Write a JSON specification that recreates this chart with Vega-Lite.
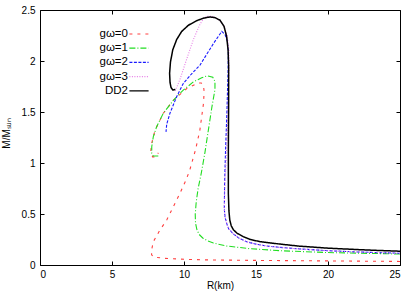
{
  "$schema": "https://vega.github.io/schema/vega-lite/v6.json",
  "width": 360,
  "height": 255,
  "autosize": "none",
  "padding": {"left": 40, "top": 10, "right": 15, "bottom": 26},
  "background": "white",
  "config": {
    "view": {"stroke": "black", "strokeWidth": 1},
    "font": "Liberation Sans",
    "axis": {"grid": false, "domain": false, "tickColor": "black", "tickWidth": 1, "labelColor": "black", "titleColor": "black", "labelFont": "Liberation Sans", "titleFont": "Liberation Sans", "labelFontSize": 10, "titleFontSize": 10, "titleFontWeight": "normal"},
    "legend": {"title": null, "orient": "none", "legendX": 92, "legendY": 17, "padding": 0, "symbolType": "M-1.6,0H1.6", "symbolSize": 144, "symbolStrokeWidth": 1.2, "labelFont": "Liberation Sans", "labelFontSize": 11.5, "labelColor": "black", "labelAlign": "right", "labelOffset": -18, "rowPadding": 1.2}
  },
  "data": {"values": [
    {"s": "gω=0", "k": 1, "R": 25, "M": 0.035},
    {"s": "gω=0", "k": 2, "R": 20, "M": 0.04},
    {"s": "gω=0", "k": 3, "R": 15, "M": 0.045},
    {"s": "gω=0", "k": 4, "R": 11.5, "M": 0.05},
    {"s": "gω=0", "k": 5, "R": 10, "M": 0.056},
    {"s": "gω=0", "k": 6, "R": 8.6, "M": 0.066},
    {"s": "gω=0", "k": 7, "R": 7.9, "M": 0.078},
    {"s": "gω=0", "k": 8, "R": 7.75, "M": 0.1},
    {"s": "gω=0", "k": 9, "R": 7.75, "M": 0.147},
    {"s": "gω=0", "k": 10, "R": 7.87, "M": 0.229},
    {"s": "gω=0", "k": 11, "R": 8.33, "M": 0.343},
    {"s": "gω=0", "k": 12, "R": 8.8, "M": 0.441},
    {"s": "gω=0", "k": 13, "R": 9.26, "M": 0.572},
    {"s": "gω=0", "k": 14, "R": 9.72, "M": 0.703},
    {"s": "gω=0", "k": 15, "R": 10.14, "M": 0.833},
    {"s": "gω=0", "k": 16, "R": 10.4, "M": 0.93},
    {"s": "gω=0", "k": 17, "R": 10.6, "M": 1.03},
    {"s": "gω=0", "k": 18, "R": 10.8, "M": 1.13},
    {"s": "gω=0", "k": 19, "R": 11.1, "M": 1.32},
    {"s": "gω=0", "k": 20, "R": 11.35, "M": 1.58},
    {"s": "gω=0", "k": 21, "R": 11.4, "M": 1.7},
    {"s": "gω=0", "k": 22, "R": 11.35, "M": 1.76},
    {"s": "gω=0", "k": 23, "R": 11.2, "M": 1.785},
    {"s": "gω=0", "k": 24, "R": 11.0, "M": 1.785},
    {"s": "gω=0", "k": 25, "R": 10.19, "M": 1.73},
    {"s": "gω=0", "k": 26, "R": 9.26, "M": 1.615},
    {"s": "gω=0", "k": 27, "R": 8.56, "M": 1.487},
    {"s": "gω=0", "k": 28, "R": 7.99, "M": 1.32},
    {"s": "gω=0", "k": 29, "R": 7.75, "M": 1.19},
    {"s": "gω=0", "k": 30, "R": 7.69, "M": 1.11},
    {"s": "gω=0", "k": 31, "R": 7.82, "M": 1.06},
    {"s": "gω=0", "k": 32, "R": 8.0, "M": 1.06},
    {"s": "gω=0", "k": 33, "R": 8.22, "M": 1.1},

    {"s": "gω=1", "k": 1, "R": 25, "M": 0.108},
    {"s": "gω=1", "k": 2, "R": 20, "M": 0.122},
    {"s": "gω=1", "k": 3, "R": 16.67, "M": 0.14},
    {"s": "gω=1", "k": 4, "R": 14.58, "M": 0.16},
    {"s": "gω=1", "k": 5, "R": 12.96, "M": 0.186},
    {"s": "gω=1", "k": 6, "R": 12.04, "M": 0.215},
    {"s": "gω=1", "k": 7, "R": 11.6, "M": 0.24},
    {"s": "gω=1", "k": 8, "R": 11.3, "M": 0.265},
    {"s": "gω=1", "k": 9, "R": 11.05, "M": 0.3},
    {"s": "gω=1", "k": 10, "R": 10.9, "M": 0.345},
    {"s": "gω=1", "k": 11, "R": 10.8, "M": 0.41},
    {"s": "gω=1", "k": 12, "R": 10.78, "M": 0.5},
    {"s": "gω=1", "k": 13, "R": 10.85, "M": 0.62},
    {"s": "gω=1", "k": 14, "R": 10.98, "M": 0.75},
    {"s": "gω=1", "k": 15, "R": 11.2, "M": 0.9},
    {"s": "gω=1", "k": 16, "R": 11.45, "M": 1.1},
    {"s": "gω=1", "k": 17, "R": 11.7, "M": 1.33},
    {"s": "gω=1", "k": 18, "R": 11.95, "M": 1.56},
    {"s": "gω=1", "k": 19, "R": 12.15, "M": 1.72},
    {"s": "gω=1", "k": 20, "R": 12.15, "M": 1.8},
    {"s": "gω=1", "k": 21, "R": 12.0, "M": 1.84},
    {"s": "gω=1", "k": 22, "R": 11.6, "M": 1.855},
    {"s": "gω=1", "k": 23, "R": 11.23, "M": 1.835},
    {"s": "gω=1", "k": 24, "R": 10.65, "M": 1.795},
    {"s": "gω=1", "k": 25, "R": 9.95, "M": 1.715},
    {"s": "gω=1", "k": 26, "R": 9.26, "M": 1.615},
    {"s": "gω=1", "k": 27, "R": 8.56, "M": 1.487},
    {"s": "gω=1", "k": 28, "R": 8.1, "M": 1.356},
    {"s": "gω=1", "k": 29, "R": 7.87, "M": 1.258},
    {"s": "gω=1", "k": 30, "R": 7.76, "M": 1.16},
    {"s": "gω=1", "k": 31, "R": 7.76, "M": 1.095},
    {"s": "gω=1", "k": 32, "R": 7.87, "M": 1.068},
    {"s": "gω=1", "k": 33, "R": 8.22, "M": 1.068},

    {"s": "gω=2", "k": 1, "R": 25, "M": 0.115},
    {"s": "gω=2", "k": 2, "R": 22, "M": 0.128},
    {"s": "gω=2", "k": 3, "R": 20, "M": 0.14},
    {"s": "gω=2", "k": 4, "R": 18, "M": 0.158},
    {"s": "gω=2", "k": 5, "R": 16.67, "M": 0.173},
    {"s": "gω=2", "k": 6, "R": 15.74, "M": 0.186},
    {"s": "gω=2", "k": 7, "R": 15.0, "M": 0.205},
    {"s": "gω=2", "k": 8, "R": 14.35, "M": 0.228},
    {"s": "gω=2", "k": 9, "R": 13.8, "M": 0.265},
    {"s": "gω=2", "k": 10, "R": 13.43, "M": 0.305},
    {"s": "gω=2", "k": 11, "R": 13.1, "M": 0.355},
    {"s": "gω=2", "k": 12, "R": 12.96, "M": 0.41},
    {"s": "gω=2", "k": 13, "R": 12.85, "M": 0.47},
    {"s": "gω=2", "k": 14, "R": 12.8, "M": 0.55},
    {"s": "gω=2", "k": 15, "R": 12.82, "M": 0.8},
    {"s": "gω=2", "k": 16, "R": 12.88, "M": 1.1},
    {"s": "gω=2", "k": 17, "R": 12.98, "M": 1.5},
    {"s": "gω=2", "k": 18, "R": 13.06, "M": 1.9},
    {"s": "gω=2", "k": 19, "R": 13.08, "M": 2.1},
    {"s": "gω=2", "k": 20, "R": 13.0, "M": 2.2},
    {"s": "gω=2", "k": 21, "R": 12.85, "M": 2.26},
    {"s": "gω=2", "k": 22, "R": 12.62, "M": 2.29},
    {"s": "gω=2", "k": 23, "R": 12.04, "M": 2.17},
    {"s": "gω=2", "k": 24, "R": 11.11, "M": 1.96},
    {"s": "gω=2", "k": 25, "R": 10.5, "M": 1.87},
    {"s": "gω=2", "k": 26, "R": 9.95, "M": 1.78},
    {"s": "gω=2", "k": 27, "R": 9.49, "M": 1.65},
    {"s": "gω=2", "k": 28, "R": 9.03, "M": 1.49},
    {"s": "gω=2", "k": 29, "R": 8.8, "M": 1.38},
    {"s": "gω=2", "k": 30, "R": 8.75, "M": 1.305},

    {"s": "gω=3", "k": 1, "R": 25, "M": 0.115},
    {"s": "gω=3", "k": 2, "R": 22, "M": 0.128},
    {"s": "gω=3", "k": 3, "R": 20, "M": 0.14},
    {"s": "gω=3", "k": 4, "R": 18, "M": 0.158},
    {"s": "gω=3", "k": 5, "R": 16.67, "M": 0.173},
    {"s": "gω=3", "k": 6, "R": 15.74, "M": 0.186},
    {"s": "gω=3", "k": 7, "R": 15.0, "M": 0.205},
    {"s": "gω=3", "k": 8, "R": 14.35, "M": 0.228},
    {"s": "gω=3", "k": 9, "R": 13.8, "M": 0.265},
    {"s": "gω=3", "k": 10, "R": 13.43, "M": 0.305},
    {"s": "gω=3", "k": 11, "R": 13.1, "M": 0.355},
    {"s": "gω=3", "k": 12, "R": 12.96, "M": 0.41},
    {"s": "gω=3", "k": 13, "R": 12.85, "M": 0.47},
    {"s": "gω=3", "k": 14, "R": 12.8, "M": 0.55},
    {"s": "gω=3", "k": 15, "R": 12.84, "M": 0.8},
    {"s": "gω=3", "k": 16, "R": 12.95, "M": 1.1},
    {"s": "gω=3", "k": 17, "R": 13.05, "M": 1.5},
    {"s": "gω=3", "k": 18, "R": 13.12, "M": 1.9},
    {"s": "gω=3", "k": 19, "R": 13.12, "M": 2.1},
    {"s": "gω=3", "k": 20, "R": 13.0, "M": 2.25},
    {"s": "gω=3", "k": 21, "R": 12.75, "M": 2.35},
    {"s": "gω=3", "k": 22, "R": 12.4, "M": 2.41},
    {"s": "gω=3", "k": 23, "R": 12.0, "M": 2.435},
    {"s": "gω=3", "k": 24, "R": 11.7, "M": 2.44},
    {"s": "gω=3", "k": 25, "R": 11.4, "M": 2.425},
    {"s": "gω=3", "k": 26, "R": 11.11, "M": 2.36},
    {"s": "gω=3", "k": 27, "R": 10.65, "M": 2.21},
    {"s": "gω=3", "k": 28, "R": 10.19, "M": 2.02},
    {"s": "gω=3", "k": 29, "R": 9.72, "M": 1.82},
    {"s": "gω=3", "k": 30, "R": 9.49, "M": 1.74},
    {"s": "gω=3", "k": 31, "R": 9.35, "M": 1.70},

    {"s": "DD2", "k": 1, "R": 25, "M": 0.135},
    {"s": "DD2", "k": 2, "R": 22.7, "M": 0.147},
    {"s": "DD2", "k": 3, "R": 20, "M": 0.165},
    {"s": "DD2", "k": 4, "R": 18, "M": 0.185},
    {"s": "DD2", "k": 5, "R": 16.67, "M": 0.205},
    {"s": "DD2", "k": 6, "R": 15.28, "M": 0.229},
    {"s": "DD2", "k": 7, "R": 14.6, "M": 0.25},
    {"s": "DD2", "k": 8, "R": 14.12, "M": 0.278},
    {"s": "DD2", "k": 9, "R": 13.7, "M": 0.31},
    {"s": "DD2", "k": 10, "R": 13.43, "M": 0.345},
    {"s": "DD2", "k": 11, "R": 13.28, "M": 0.385},
    {"s": "DD2", "k": 12, "R": 13.18, "M": 0.44},
    {"s": "DD2", "k": 13, "R": 13.12, "M": 0.53},
    {"s": "DD2", "k": 14, "R": 13.08, "M": 0.7},
    {"s": "DD2", "k": 15, "R": 13.08, "M": 1.1},
    {"s": "DD2", "k": 16, "R": 13.1, "M": 1.6},
    {"s": "DD2", "k": 17, "R": 13.1, "M": 1.95},
    {"s": "DD2", "k": 18, "R": 13.06, "M": 2.11},
    {"s": "DD2", "k": 19, "R": 12.96, "M": 2.24},
    {"s": "DD2", "k": 20, "R": 12.78, "M": 2.34},
    {"s": "DD2", "k": 21, "R": 12.5, "M": 2.4},
    {"s": "DD2", "k": 22, "R": 12.15, "M": 2.425},
    {"s": "DD2", "k": 23, "R": 11.8, "M": 2.432},
    {"s": "DD2", "k": 24, "R": 11.35, "M": 2.42},
    {"s": "DD2", "k": 25, "R": 10.88, "M": 2.395},
    {"s": "DD2", "k": 26, "R": 10.3, "M": 2.35},
    {"s": "DD2", "k": 27, "R": 9.84, "M": 2.29},
    {"s": "DD2", "k": 28, "R": 9.49, "M": 2.21},
    {"s": "DD2", "k": 29, "R": 9.22, "M": 2.11},
    {"s": "DD2", "k": 30, "R": 9.06, "M": 1.99},
    {"s": "DD2", "k": 31, "R": 9.0, "M": 1.88},
    {"s": "DD2", "k": 32, "R": 9.03, "M": 1.79},
    {"s": "DD2", "k": 33, "R": 9.1, "M": 1.74},
    {"s": "DD2", "k": 34, "R": 9.22, "M": 1.716},
    {"s": "DD2", "k": 35, "R": 9.4, "M": 1.72}
  ]},
  "layer": [
    {
      "transform": [{"filter": "datum.s != 'DD2'"}],
      "mark": {"type": "line", "clip": true, "strokeWidth": 1.1},
      "encoding": {
        "x": {"field": "R", "type": "quantitative", "scale": {"domain": [0, 25], "nice": false, "zero": false},
              "axis": {"orient": "bottom", "values": [0, 5, 10, 15, 20, 25], "tickSize": -4, "labelPadding": 8, "title": "R(km)", "titlePadding": 1}},
        "y": {"field": "M", "type": "quantitative", "scale": {"domain": [0, 2.5], "nice": false, "zero": false},
              "axis": {"orient": "left", "values": [0, 0.5, 1, 1.5, 2, 2.5], "format": "~g", "tickSize": -4, "labelPadding": 9, "title": "M/Mₛᵤₙ", "titleX": -29, "titleY": 123}},
        "order": {"field": "k", "type": "quantitative"},
        "color": {"field": "s", "type": "nominal",
                  "scale": {"domain": ["gω=0", "gω=1", "gω=2", "gω=3", "DD2"], "range": ["#ff4040", "#22dd22", "#1a1aff", "#e67ee6", "#000000"]}},
        "strokeDash": {"field": "s", "type": "nominal",
                  "scale": {"domain": ["gω=0", "gω=1", "gω=2", "gω=3", "DD2"], "range": [[3, 5], [6, 2, 1, 2], [3, 1.5], [1, 1.5], [1, 0]]}}
      }
    },
    {
      "transform": [{"filter": "datum.s == 'DD2'"}],
      "mark": {"type": "line", "clip": true, "strokeWidth": 1.5},
      "encoding": {
        "x": {"field": "R", "type": "quantitative", "axis": {"orient": "top", "values": [0, 5, 10, 15, 20, 25], "tickSize": -4, "labels": false, "title": null}},
        "y": {"field": "M", "type": "quantitative", "axis": {"orient": "right", "values": [0, 0.5, 1, 1.5, 2, 2.5], "tickSize": -4, "labels": false, "title": null}},
        "order": {"field": "k", "type": "quantitative"},
        "color": {"field": "s", "type": "nominal"},
        "strokeDash": {"field": "s", "type": "nominal"}
      }
    }
  ],
  "resolve": {"axis": {"x": "independent", "y": "independent"}}
}
